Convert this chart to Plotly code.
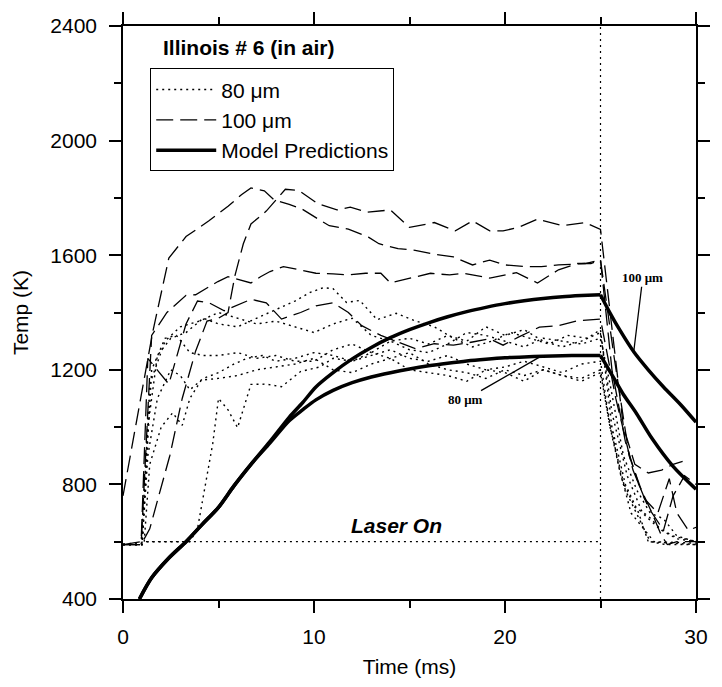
import plotly.graph_objects as go

# ---------------- data ----------------
# model predictions: heating (laser on) and cooling (laser off) parts
model_rise_t = [0.86, 1.5, 2.4, 3.3, 4.1, 5.0, 5.8, 6.7, 7.7, 8.7, 9.4, 10.1, 11.0, 12.0, 13.0, 14.0,
                15.0, 16.0, 17.0, 18.0, 19.0, 20.0, 21.0, 22.0, 23.0, 24.0, 25.0]
model_rise_100 = [400, 474, 543, 600, 657, 720, 794, 870, 950, 1034, 1085, 1140, 1190, 1238, 1278, 1312,
                  1340, 1364, 1385, 1403, 1418, 1431, 1441, 1449, 1455, 1459, 1462]
model_rise_80 = [400, 474, 543, 600, 657, 720, 794, 870, 945, 1022, 1060, 1095, 1128, 1155, 1175, 1190,
                 1203, 1214, 1223, 1231, 1237, 1242, 1245, 1247, 1249, 1250, 1250]
model_fall_100_t = [25.0, 25.5, 26.0, 26.74, 27.5, 28.3, 29.2, 30.0]
model_fall_100 = [1462, 1398, 1340, 1263, 1200, 1140, 1078, 1017]
model_fall_80_t = [25.0, 25.7, 26.2, 26.9, 27.7, 28.8, 30.0]
model_fall_80 = [1250, 1171, 1114, 1046, 960, 863, 783]

# 100 micron measurements (dashed)
d1_t = [0, 1.55, 2.4, 3.3, 4.5, 5.5, 6.2, 6.7, 7.4, 7.9, 8.7, 9.4, 10.1, 10.8, 11.8, 12.85, 13.4,
        14.4, 15.3, 16.3, 17.3, 18.3, 19.2, 20.0, 21.1, 21.9, 22.8, 24.2, 25.0,
        25.6, 26.3, 27.0, 27.7, 28.2, 28.5, 29.0, 30.0]
d1_y = [760, 1330, 1590, 1665, 1720, 1771, 1811, 1835, 1825, 1794, 1777, 1760, 1731, 1703, 1691, 1663, 1640,
        1623, 1617, 1603, 1594, 1566, 1583, 1566, 1560, 1560, 1566, 1571, 1583,
        1200, 950, 800, 700, 620, 590, 600, 600]

d2_t = [0, 0.95, 1.4, 2.45, 3.1, 3.8, 4.4, 5.0, 5.5, 5.85, 6.3, 6.7, 7.5, 8.1, 8.5, 9.2, 10.2, 11.2,
        11.9, 12.8, 14.0, 15.0, 16.3, 17.4, 18.3, 19.2, 19.9, 20.7, 21.7, 23.0, 24.2, 25.0,
        25.5, 26.2, 26.8, 27.5, 28.2, 28.8, 29.3]
d2_y = [590, 590, 645, 900, 1100, 1265, 1370, 1380, 1400, 1526, 1640, 1709, 1754, 1800, 1830, 1826, 1780, 1758,
        1768, 1750, 1758, 1697, 1714, 1685, 1720, 1685, 1685, 1697, 1726, 1703, 1714, 1690,
        1400, 1000, 870, 840, 850, 870, 880]

d3_t = [0, 0.95, 1.5, 2.3, 3.3, 3.8, 4.97, 5.5, 6.7, 7.2, 7.7, 8.4, 9.26, 10.1, 11.0, 11.8, 12.7, 13.5,
        14.0, 14.7, 15.25, 16.1, 17.1, 17.8, 19.2, 20.6, 21.7, 22.8, 23.8, 24.5, 25.0,
        25.7, 26.5, 27.3, 28.0, 28.6, 29.0, 29.6, 30.0]
d3_y = [590, 590, 1320, 1400, 1460, 1462, 1508, 1525, 1503, 1525, 1543, 1560, 1549, 1537, 1535, 1531, 1537, 1537,
        1503, 1514, 1525, 1537, 1531, 1537, 1520, 1539, 1503, 1549, 1571, 1571, 1583,
        1250, 900, 750, 700, 820, 700, 640, 650]

d4_t = [0, 0.95, 1.3, 2.4, 3.3, 3.9, 4.5, 5.3, 6.7, 7.5, 8.3, 9.3, 10.1, 11.0, 11.8, 12.5, 13.5, 14.4,
        15.3, 16.3, 17.3, 18.3, 19.2, 19.9, 20.7, 21.8, 22.8, 23.8, 25.0,
        25.8, 26.7, 27.5, 28.3, 28.8, 29.4, 30.0]
d4_y = [590, 600, 1240, 1150, 1360, 1440, 1434, 1406, 1446, 1434, 1377, 1400, 1423, 1434, 1400, 1354, 1320, 1297,
        1274, 1291, 1286, 1297, 1308, 1286, 1314, 1349, 1354, 1371, 1377,
        1100, 850, 720, 640, 760, 830, 800]

# 80 micron measurements (dotted)
o1_t = [0, 0.95, 1.3, 1.8, 2.5, 3.3, 4.2, 5.0, 6.0, 7.0, 8.0, 9.0, 9.8, 10.5, 11.0, 11.7, 12.4, 13.3,
        14.3, 15.3, 16.3, 17.3, 18.3, 19.3, 20.3, 21.3, 22.3, 23.3, 24.3, 25.0,
        25.6, 26.3, 27.0, 27.5, 30.0]
o1_y = [590, 590, 1000, 1250, 1310, 1330, 1380, 1360, 1350, 1380, 1410, 1440, 1470, 1487, 1483, 1435, 1442, 1375,
        1397, 1371, 1350, 1310, 1280, 1300, 1330, 1310, 1290, 1320, 1310, 1340,
        1000, 800, 700, 600, 590]

o2_t = [0, 1.0, 1.4, 2.2, 3.0, 4.0, 5.0, 6.0, 7.0, 8.0, 9.0, 10.0, 11.0, 12.0, 13.0, 14.0, 15.0, 16.0,
        17.0, 18.0, 19.0, 20.0, 21.0, 22.0, 23.0, 24.0, 25.0,
        25.5, 26.2, 26.9, 27.6, 28.3, 29.0, 30.0]
o2_y = [590, 590, 1150, 1300, 1350, 1370, 1400, 1380, 1360, 1370, 1350, 1330, 1360, 1380, 1320, 1300, 1270, 1260,
        1290, 1330, 1320, 1300, 1280, 1310, 1300, 1290, 1310,
        1150, 900, 780, 700, 680, 620, 600]

o3_t = [0, 1.0, 1.3, 1.8, 2.5, 3.0, 3.5, 4.2, 5.0, 5.8, 6.5, 7.3, 8.0, 9.0, 10.0, 11.0, 12.0, 13.0,
        14.0, 15.0, 16.0, 17.0, 18.0, 19.0, 20.0, 21.0, 22.0, 23.0, 24.0, 25.0,
        25.4, 26.0, 26.6, 27.2, 27.8, 30.0]
o3_y = [590, 590, 900, 1100, 1200, 1180, 1130, 1170, 1190, 1220, 1240, 1250, 1230, 1240, 1260, 1250, 1230, 1250,
        1270, 1240, 1230, 1250, 1220, 1200, 1210, 1230, 1210, 1190, 1220, 1230,
        1050, 850, 700, 650, 600, 595]

o4_t = [0, 1.1, 1.4, 2.0, 2.6, 3.1, 3.5, 4.1, 5.0, 6.0, 7.0, 8.0, 9.0, 10.0, 11.0, 12.0, 13.0, 14.0,
        15.0, 16.0, 17.0, 18.0, 19.0, 20.0, 21.0, 22.0, 23.0, 24.0, 25.0,
        25.5, 26.1, 26.8, 27.5, 28.2, 29.0, 30.0]
o4_y = [590, 590, 870, 1000, 1050, 1006, 1100, 1164, 1170, 1180, 1200, 1210, 1220, 1240, 1200, 1190, 1220, 1240,
        1260, 1220, 1200, 1190, 1170, 1200, 1180, 1200, 1180, 1170, 1200,
        1000, 820, 720, 690, 640, 610, 600]

o5_t = [0, 1.2, 3.5, 3.9, 4.7, 5.0, 5.5, 6.0, 6.7, 7.5, 8.3, 9.3, 10.3, 11.0, 12.0, 13.0, 14.0, 15.0,
        16.0, 17.0, 18.0, 19.0, 20.0, 21.0, 22.0, 23.0, 24.0, 25.0,
        25.6, 26.4, 27.2, 28.0, 28.8, 30.0]
o5_y = [590, 600, 600, 645, 943, 1100, 1060, 998, 1149, 1150, 1141, 1194, 1210, 1240, 1230, 1260, 1300, 1310,
        1290, 1320, 1300, 1350, 1320, 1340, 1300, 1280, 1300, 1330,
        1050, 830, 700, 650, 620, 600]

o6_t = [0, 1.0, 1.5, 2.2, 2.8, 3.5, 4.2, 5.0, 6.0, 7.0, 8.0, 9.0, 10.0, 11.0, 12.0, 13.0, 14.0, 15.0,
        16.0, 17.0, 18.0, 19.0, 20.0, 21.0, 22.0, 23.0, 24.0, 25.0,
        25.5, 26.3, 27.0, 27.6, 28.4, 30.0]
o6_y = [590, 590, 1200, 1310, 1320, 1260, 1250, 1250, 1260, 1240, 1250, 1230, 1230, 1270, 1290, 1260, 1240, 1200,
        1190, 1180, 1160, 1200, 1190, 1160, 1200, 1180, 1160, 1190,
        1000, 780, 680, 600, 590, 590]

# laser-on markers
laser_h_t = [1.2, 25.0]
laser_h_y = [600, 600]
laser_v_t = [25.0, 25.0]
laser_v_y = [400, 2400]

x_ticks = [0, 10, 20, 30]
y_ticks = [400, 800, 1200, 1600, 2000, 2400]

FONT = "Liberation Sans, Arial, Helvetica, sans-serif"
SERIF = "Liberation Serif, Times New Roman, serif"
FS = 21
DOT = "2px,4px"
DASH = "17px,7px"

fig = go.Figure()

# reference dotted lines (laser on)
fig.add_trace(go.Scatter(x=laser_h_t, y=laser_h_y, mode="lines", showlegend=False,
                         line=dict(color="black", width=1.2, dash="2px,4px")))
fig.add_trace(go.Scatter(x=laser_v_t, y=laser_v_y, mode="lines", showlegend=False,
                         line=dict(color="black", width=1.2, dash="2px,4px")))

dotted = [(o1_t, o1_y), (o2_t, o2_y), (o3_t, o3_y), (o4_t, o4_y), (o5_t, o5_y), (o6_t, o6_y)]
for i, (t, y) in enumerate(dotted):
    fig.add_trace(go.Scatter(x=t, y=y, mode="lines", name="80 μm", legendgroup="80",
                             showlegend=(i == 0), legendrank=1,
                             line=dict(color="black", width=1.4, dash=DOT)))

dashed = [(d1_t, d1_y), (d2_t, d2_y), (d3_t, d3_y), (d4_t, d4_y)]
for i, (t, y) in enumerate(dashed):
    fig.add_trace(go.Scatter(x=t, y=y, mode="lines", name="100 μm", legendgroup="100",
                             showlegend=(i == 0), legendrank=2,
                             line=dict(color="black", width=1.3, dash=DASH)))

model_parts = [(model_rise_t, model_rise_100), (model_fall_100_t, model_fall_100),
               (model_rise_t, model_rise_80), (model_fall_80_t, model_fall_80)]
for i, (t, y) in enumerate(model_parts):
    fig.add_trace(go.Scatter(x=t, y=y, mode="lines", name="Model Predictions",
                             legendgroup="model", showlegend=(i == 0), legendrank=3,
                             line=dict(color="black", width=3.5, shape="spline", smoothing=0.8)))

axis_common = dict(
    showline=True, linecolor="black", linewidth=1.5, mirror="allticks",
    ticks="outside", ticklen=12, tickwidth=1.5, tickcolor="black",
    showgrid=False, zeroline=False,
    tickfont=dict(family=FONT, size=FS, color="black"),
)

fig.update_xaxes(range=[0, 30], tickvals=x_ticks, ticktext=[str(v) for v in x_ticks],
                 minor=dict(tickvals=[5, 15, 25], ticks="outside", ticklen=7, tickwidth=1.5, tickcolor="black"),
                 title=dict(text="Time (ms)", font=dict(family=FONT, size=FS, color="black"), standoff=12),
                 ticklabelstandoff=6, **axis_common)
fig.update_yaxes(range=[400, 2400], tickvals=y_ticks, ticktext=[str(v) for v in y_ticks],
                 minor=dict(tickvals=[600, 1000, 1400, 1800, 2200], ticks="outside", ticklen=7,
                            tickwidth=1.5, tickcolor="black"),
                 title=dict(text="Temp (K)", font=dict(family=FONT, size=FS, color="black"), standoff=16),
                 ticklabelstandoff=8, **axis_common)

fig.update_layout(
    width=722, height=687, autosize=False,
    margin=dict(l=123, r=15, t=25, b=79),
    paper_bgcolor="white", plot_bgcolor="white",
    font=dict(family=FONT, size=FS, color="black"),
    legend=dict(x=0.0475, y=0.926, xanchor="left", yanchor="top",
                bordercolor="black", borderwidth=1, bgcolor="white",
                font=dict(family=FONT, size=FS, color="black"),
                tracegroupgap=0, itemwidth=60),
    annotations=[
        dict(text="<b>Illinois # 6 (in air)</b>", xref="paper", yref="paper",
             x=0.066, y=0.963, xanchor="left", yanchor="middle", showarrow=False,
             font=dict(family=FONT, size=FS, color="black")),
        dict(text="<b><i>Laser On</i></b>", xref="x", yref="y", x=14.33, y=658,
             showarrow=False, font=dict(family=FONT, size=FS, color="black")),
        dict(text="<b>100 μm</b>", xref="x", yref="y", x=26.74, y=1263,
             ax=9, ay=-74, axref="pixel", ayref="pixel", showarrow=True, arrowhead=0,
             arrowwidth=1.3, arrowcolor="black", standoff=0,
             font=dict(family=SERIF, size=13, color="black")),
        dict(text="<b>80 μm</b>", xref="x", yref="y", x=21.85, y=1246,
             ax=-75, ay=43, showarrow=True, arrowhead=0,
             arrowwidth=1.3, arrowcolor="black", standoff=0,
             font=dict(family=SERIF, size=13, color="black")),
    ],
)

fig.write_html("out.html")
